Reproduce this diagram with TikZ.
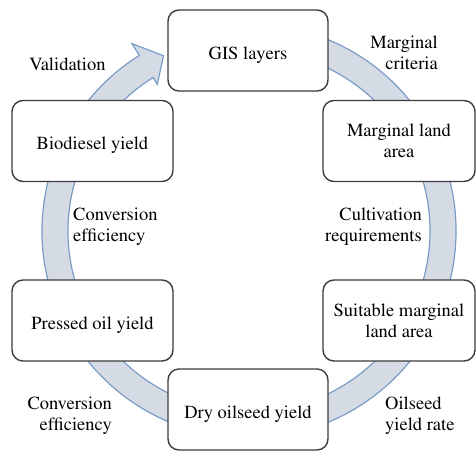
\documentclass[tikz,border=0pt]{standalone}
\usepackage[T1]{fontenc}
\usepackage{mathptmx}
\usetikzlibrary{positioning}
\definecolor{ringfill}{HTML}{D5DBE5}
\definecolor{ringline}{HTML}{7A9CC6}
\definecolor{boxline}{HTML}{3C3C3C}

\begin{document}
\begin{tikzpicture}[x=1pt,y=1pt,
  stage/.style={draw=boxline, line width=1.4pt, fill=white, rounded corners=11pt,
    minimum height=81pt, inner sep=0pt, align=center, font=\fontsize{18.5}{21}\selectfont},
  oneline/.style={text height=17pt, text depth=0pt},
  twoline/.style={},
  note/.style={inner sep=0pt, font=\fontsize{18.5}{21}\selectfont}]
  \useasboundingbox (-249,-220) rectangle (227,231);
  % circular arrow behind the stages
  \filldraw[fill=ringfill, draw=ringline, line width=1.2pt]
    (75:207) arc[start angle=75, end angle=-238, radius=207]
    -- (122:221) -- (116:195) -- (122:173) -- (122:181)
    arc[start angle=-238, end angle=75, radius=181] -- cycle;
  % stages
  \foreach \name/\x/\y/\w/\sty/\txt in {gis/-1/180.5/160/oneline/{GIS layers},
      marginal/150/90/152/twoline/{Marginal land\\area},
      suitable/150/-89.5/152/twoline/{Suitable marginal\\land area},
      dry/-1/-178.5/160/oneline/{Dry oilseed yield},
      pressed/-156.5/-89.5/161/oneline/{Pressed oil yield},
      biodiesel/-156.5/90/161/oneline/{Biodiesel yield}}{
    \node[stage, \sty, minimum width=\w] (\name) at (\x,\y) {\txt};
  }
  % step labels
  \foreach \name/\x/\y/\anc/\al/\txt in {crit/189/178.5/east/right/{Marginal\\criteria},
      cult/173/4.5/east/right/{Cultivation\\requirements},
      rate/136/-185/west/left/{Oilseed\\yield rate},
      convlow/-137/-185/east/right/{Conversion\\efficiency},
      convup/-176/4/west/left/{Conversion\\efficiency},
      valid/-181.5/167/center/center/{Validation}}{
    \node[note, anchor=\anc, align=\al] (\name) at (\x,\y) {\txt};
  }
\end{tikzpicture}
\end{document}
